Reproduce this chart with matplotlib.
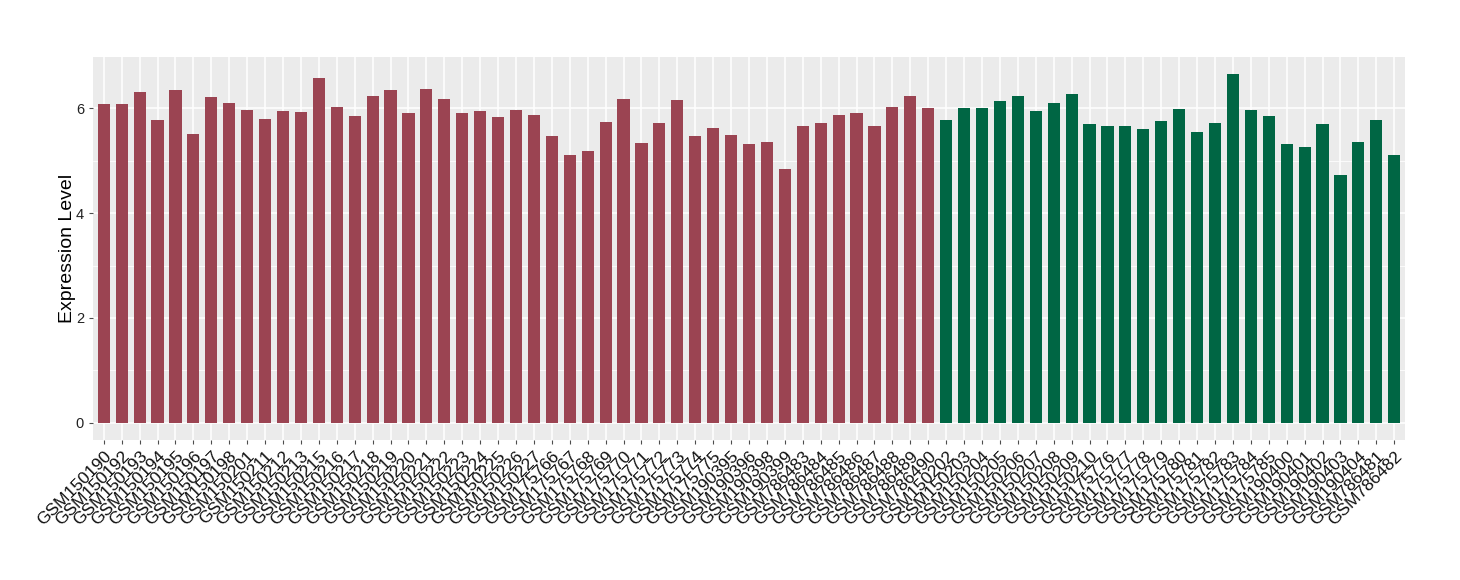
import matplotlib
matplotlib.use("Agg")
import matplotlib.pyplot as plt
import numpy as np

plt.rcParams['font.family'] = ['Liberation Sans', 'DejaVu Sans']

red_samples = ["GSM150190", "GSM150192", "GSM150193", "GSM150194", "GSM150195", "GSM150196",
               "GSM150197", "GSM150198", "GSM150201", "GSM150211", "GSM150212", "GSM150213",
               "GSM150215", "GSM150216", "GSM150217", "GSM150218", "GSM150219", "GSM150220",
               "GSM150221", "GSM150222", "GSM150223", "GSM150224", "GSM150225", "GSM150226",
               "GSM150227", "GSM175766", "GSM175767", "GSM175768", "GSM175769", "GSM175770",
               "GSM175771", "GSM175772", "GSM175773", "GSM175774", "GSM175775", "GSM190395",
               "GSM190396", "GSM190398", "GSM190399", "GSM786483", "GSM786484", "GSM786485",
               "GSM786486", "GSM786487", "GSM786488", "GSM786489", "GSM786490"]
red_values = [6.08, 6.08, 6.31, 5.78, 6.35, 5.51, 6.22, 6.10, 5.97, 5.80, 5.95, 5.93,
              6.58, 6.02, 5.85, 6.23, 6.35, 5.91, 6.37, 6.18, 5.91, 5.95, 5.83, 5.97,
              5.87, 5.47, 5.11, 5.19, 5.74, 6.18, 5.34, 5.72, 6.16, 5.47, 5.62, 5.49,
              5.32, 5.36, 4.84, 5.66, 5.72, 5.87, 5.91, 5.66, 6.02, 6.23, 6.01]

green_samples = ["GSM150202", "GSM150203", "GSM150204", "GSM150205", "GSM150206", "GSM150207",
                 "GSM150208", "GSM150209", "GSM150210", "GSM175776", "GSM175777", "GSM175778",
                 "GSM175779", "GSM175780", "GSM175781", "GSM175782", "GSM175783", "GSM175784",
                 "GSM175785", "GSM190400", "GSM190401", "GSM190402", "GSM190403", "GSM190404",
                 "GSM786481", "GSM786482"]
green_values = [5.78, 6.01, 6.01, 6.14, 6.23, 5.95, 6.10, 6.27, 5.70, 5.66, 5.66, 5.61,
                5.76, 5.99, 5.55, 5.72, 6.65, 5.97, 5.85, 5.32, 5.26, 5.70, 4.73, 5.36,
                5.78, 5.11]

red_color = "#9B4452"
green_color = "#006644"

labels = red_samples + green_samples
values = red_values + green_values
colors = [red_color] * len(red_samples) + [green_color] * len(green_samples)
x = np.arange(len(labels))

fig = plt.figure(figsize=(14.6, 5.8), dpi=100)
ax = fig.add_axes([93/1460, 140/580, (1405-93)/1460, (440-57)/580])
ax.set_facecolor("#EBEBEB")

ax.bar(x, values, width=0.68, color=colors, zorder=3)

ax.set_xlim(-0.6, len(labels) - 1 + 0.6)
ymax = max(values)
ax.set_ylim(-0.05 * ymax, ymax * 1.05)

ax.set_yticks([0, 2, 4, 6])
ax.set_yticks([1, 3, 5], minor=True)
ax.set_xticks(x)
ax.set_xticklabels(labels, rotation=45, ha="right", rotation_mode="anchor", fontsize=12.5)
ax.tick_params(axis="y", labelsize=10.5, colors="#4D4D4D", length=3, labelcolor="#222222")
ax.tick_params(axis="x", colors="#4D4D4D", length=3, labelcolor="#111111", pad=3)
ax.tick_params(axis="y", which="minor", length=0)

ax.grid(which="major", color="white", linewidth=1.1, zorder=0)
ax.grid(which="minor", axis="y", color="white", linewidth=0.55, zorder=0)
ax.set_axisbelow(True)
for s in ax.spines.values():
    s.set_visible(False)

ax.set_ylabel("Expression Level", fontsize=14, labelpad=0)

fig.savefig("out.png", dpi=100)
